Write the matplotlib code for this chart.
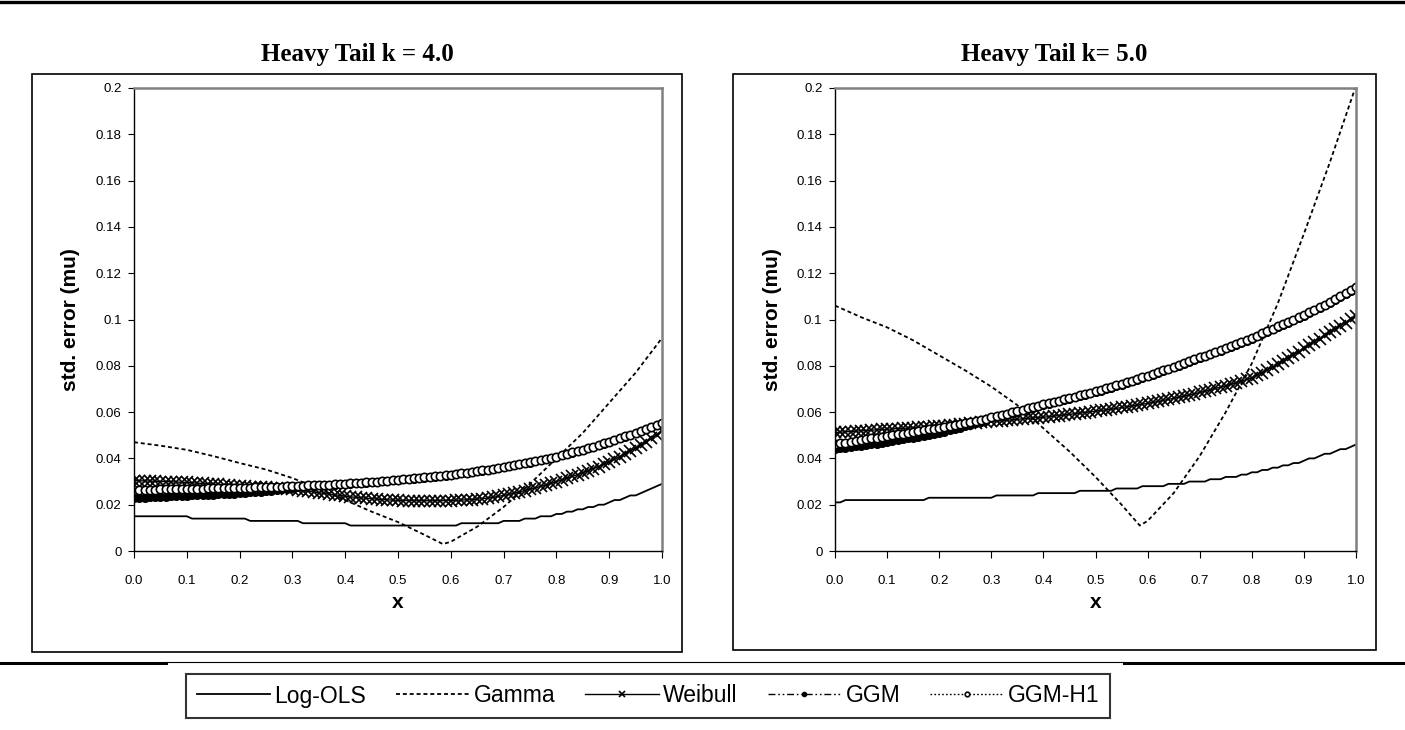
import numpy as np
import matplotlib
matplotlib.use("Agg")
import matplotlib.pyplot as plt
from matplotlib.lines import Line2D
from matplotlib.patches import Rectangle

plt.rcParams['font.family'] = ['Liberation Sans', 'DejaVu Sans']

# x grid shared by the marker series (0.00 .. 1.00 step 0.01)
x = np.linspace(0.0, 1.0, 101)
# coarser grid for the Gamma curves
x_gamma = [0.0, 0.05, 0.1, 0.15, 0.2, 0.25, 0.3, 0.35, 0.4, 0.45, 0.5, 0.55,
           0.585, 0.6, 0.65, 0.7, 0.75, 0.8, 0.85, 0.9, 0.95, 1.0]

titles = ["Heavy Tail k = 4.0", "Heavy Tail k= 5.0"]
series_names = ["Log-OLS", "Gamma", "Weibull", "GGM", "GGM-H1"]
x_ticks = [0.0, 0.1, 0.2, 0.3, 0.4, 0.5, 0.6, 0.7, 0.8, 0.9, 1.0]
y_ticks = [0, 0.02, 0.04, 0.06, 0.08, 0.1, 0.12, 0.14, 0.16, 0.18, 0.2]
y_tick_labels = ["0", "0.02", "0.04", "0.06", "0.08", "0.1", "0.12", "0.14", "0.16", "0.18", "0.2"]

# ---- k = 4.0 ----
logols_k4 = ([0.015] * 11 + [0.014] * 11 + [0.013] * 10 + [0.012] * 9 + [0.011] * 21 +
             [0.012] * 8 + [0.013] * 4 + [0.014] * 3 + [0.015] * 3 + [0.016] * 2 +
             [0.017] * 2 + [0.018] * 2 + [0.019] * 2 +
             [0.020, 0.020, 0.021, 0.022, 0.022, 0.023, 0.024, 0.024, 0.025, 0.026,
              0.027, 0.028, 0.029])
gamma_k4 = [0.047, 0.0455, 0.0437, 0.041, 0.038, 0.0352, 0.0315, 0.027, 0.022, 0.017,
            0.0125, 0.007, 0.003, 0.004, 0.0105, 0.019, 0.029, 0.040, 0.051, 0.064,
            0.077, 0.092]
weibull_k4 = [0.0304, 0.0303, 0.0303, 0.0302, 0.0301, 0.0300, 0.0300, 0.0299, 0.0298, 0.0297, 0.0296,
              0.0295, 0.0293, 0.0292, 0.0291, 0.0289, 0.0288, 0.0286, 0.0284, 0.0282, 0.0280,
              0.0279, 0.0278, 0.0277, 0.0276, 0.0275, 0.0274, 0.0272, 0.0271, 0.0269, 0.0267,
              0.0264, 0.0261, 0.0258, 0.0255, 0.0252, 0.0249, 0.0246, 0.0243, 0.0240, 0.0237,
              0.0234, 0.0232, 0.0230, 0.0228, 0.0226, 0.0224, 0.0222, 0.0221, 0.0220, 0.0219,
              0.0218, 0.0218, 0.0217, 0.0217, 0.0217, 0.0217, 0.0217, 0.0217, 0.0218, 0.0218,
              0.0219, 0.0220, 0.0221, 0.0222, 0.0224, 0.0226, 0.0229, 0.0232, 0.0236, 0.0240,
              0.0245, 0.0250, 0.0255, 0.0261, 0.0267, 0.0273, 0.0279, 0.0285, 0.0292, 0.0300,
              0.0307, 0.0314, 0.0322, 0.0330, 0.0338, 0.0347, 0.0356, 0.0365, 0.0375, 0.0385,
              0.0396, 0.0408, 0.0420, 0.0432, 0.0445, 0.0458, 0.0472, 0.0486, 0.0502, 0.0520]
ggm_k4 = [0.0229, 0.0230, 0.0231, 0.0232, 0.0233, 0.0234, 0.0235, 0.0236, 0.0237, 0.0238, 0.0239,
          0.0240, 0.0241, 0.0242, 0.0243, 0.0244, 0.0245, 0.0246, 0.0247, 0.0248, 0.0249,
          0.0251, 0.0253, 0.0255, 0.0257, 0.0259, 0.0261, 0.0263, 0.0266, 0.0269, 0.0272,
          0.0275, 0.0278, 0.0280, 0.0282, 0.0284, 0.0285, 0.0286, 0.0287, 0.0288, 0.0289,
          0.0291, 0.0292, 0.0294, 0.0295, 0.0297, 0.0299, 0.0301, 0.0303, 0.0305, 0.0307,
          0.0309, 0.0311, 0.0313, 0.0315, 0.0317, 0.0319, 0.0321, 0.0323, 0.0326, 0.0329,
          0.0332, 0.0335, 0.0338, 0.0341, 0.0344, 0.0347, 0.0351, 0.0354, 0.0358, 0.0362,
          0.0366, 0.0370, 0.0374, 0.0378, 0.0382, 0.0387, 0.0392, 0.0397, 0.0402, 0.0407,
          0.0413, 0.0419, 0.0425, 0.0431, 0.0437, 0.0443, 0.0450, 0.0457, 0.0464, 0.0471,
          0.0478, 0.0486, 0.0494, 0.0502, 0.0510, 0.0518, 0.0526, 0.0535, 0.0544, 0.0553]
ggmh1_k4 = [0.0264, 0.0264, 0.0265, 0.0265, 0.0265, 0.0266, 0.0266, 0.0266, 0.0267, 0.0267, 0.0268,
            0.0268, 0.0269, 0.0269, 0.0270, 0.0270, 0.0271, 0.0271, 0.0272, 0.0272, 0.0273,
            0.0273, 0.0274, 0.0275, 0.0275, 0.0276, 0.0277, 0.0278, 0.0278, 0.0279, 0.0280,
            0.0281, 0.0282, 0.0283, 0.0284, 0.0285, 0.0286, 0.0287, 0.0288, 0.0289, 0.0290,
            0.0292, 0.0293, 0.0295, 0.0296, 0.0298, 0.0300, 0.0302, 0.0304, 0.0306, 0.0308,
            0.0310, 0.0312, 0.0314, 0.0316, 0.0318, 0.0320, 0.0322, 0.0324, 0.0327, 0.0330,
            0.0333, 0.0336, 0.0339, 0.0342, 0.0345, 0.0348, 0.0352, 0.0355, 0.0359, 0.0363,
            0.0367, 0.0371, 0.0375, 0.0379, 0.0383, 0.0388, 0.0393, 0.0398, 0.0403, 0.0408,
            0.0414, 0.0420, 0.0426, 0.0432, 0.0438, 0.0444, 0.0451, 0.0458, 0.0465, 0.0472,
            0.0479, 0.0487, 0.0495, 0.0503, 0.0511, 0.0519, 0.0527, 0.0536, 0.0545, 0.0554]

# ---- k = 5.0 ----
logols_k5 = ([0.021] * 2 + [0.022] * 16 + [0.023] * 13 + [0.024] * 8 + [0.025] * 8 +
             [0.026] * 7 + [0.027] * 5 + [0.028] * 5 + [0.029] * 4 + [0.030] * 4 +
             [0.031] * 3 + [0.032] * 3 + [0.033] * 2 + [0.034] * 2 + [0.035] * 2 +
             [0.036] * 2 + [0.037] * 2 +
             [0.038, 0.038, 0.039, 0.040, 0.040, 0.041, 0.042, 0.042, 0.043, 0.044,
              0.044, 0.045, 0.046])
gamma_k5 = [0.106, 0.101, 0.0966, 0.091, 0.0845, 0.078, 0.071, 0.063, 0.053, 0.043,
            0.032, 0.020, 0.011, 0.013, 0.025, 0.041, 0.060, 0.081, 0.107, 0.137,
            0.168, 0.201]
weibull_k5 = [0.0512, 0.0513, 0.0515, 0.0516, 0.0518, 0.0519, 0.0520, 0.0522, 0.0523, 0.0525, 0.0526,
              0.0527, 0.0529, 0.0530, 0.0531, 0.0533, 0.0534, 0.0535, 0.0537, 0.0538, 0.0540,
              0.0542, 0.0544, 0.0546, 0.0548, 0.0550, 0.0552, 0.0554, 0.0556, 0.0558, 0.0560,
              0.0562, 0.0563, 0.0565, 0.0567, 0.0569, 0.0571, 0.0573, 0.0575, 0.0576, 0.0578,
              0.0580, 0.0583, 0.0585, 0.0588, 0.0590, 0.0593, 0.0596, 0.0598, 0.0601, 0.0604,
              0.0607, 0.0610, 0.0613, 0.0616, 0.0620, 0.0623, 0.0627, 0.0630, 0.0634, 0.0638,
              0.0642, 0.0646, 0.0651, 0.0655, 0.0660, 0.0664, 0.0669, 0.0674, 0.0679, 0.0685,
              0.0690, 0.0696, 0.0702, 0.0708, 0.0714, 0.0720, 0.0727, 0.0734, 0.0741, 0.0748,
              0.0759, 0.0771, 0.0783, 0.0795, 0.0808, 0.0821, 0.0834, 0.0847, 0.0861, 0.0875,
              0.0889, 0.0903, 0.0917, 0.0931, 0.0945, 0.0959, 0.0973, 0.0987, 0.1001, 0.1015]
ggm_k5 = [0.0440, 0.0443, 0.0446, 0.0449, 0.0452, 0.0455, 0.0458, 0.0461, 0.0464, 0.0467, 0.0470,
          0.0474, 0.0478, 0.0482, 0.0486, 0.0490, 0.0494, 0.0498, 0.0502, 0.0506, 0.0510,
          0.0515, 0.0521, 0.0527, 0.0533, 0.0539, 0.0545, 0.0551, 0.0558, 0.0565, 0.0573,
          0.0579, 0.0585, 0.0590, 0.0596, 0.0601, 0.0607, 0.0613, 0.0619, 0.0625, 0.0631,
          0.0636, 0.0642, 0.0647, 0.0653, 0.0658, 0.0664, 0.0670, 0.0676, 0.0681, 0.0687,
          0.0693, 0.0700, 0.0706, 0.0713, 0.0719, 0.0726, 0.0733, 0.0740, 0.0747, 0.0754,
          0.0762, 0.0770, 0.0778, 0.0785, 0.0793, 0.0801, 0.0809, 0.0817, 0.0825, 0.0833,
          0.0841, 0.0849, 0.0858, 0.0866, 0.0875, 0.0883, 0.0892, 0.0900, 0.0909, 0.0917,
          0.0927, 0.0937, 0.0947, 0.0957, 0.0967, 0.0977, 0.0987, 0.0997, 0.1007, 0.1017,
          0.1028, 0.1039, 0.1050, 0.1061, 0.1073, 0.1085, 0.1097, 0.1110, 0.1123, 0.1137]
ggmh1_k5 = [0.0461, 0.0465, 0.0468, 0.0472, 0.0475, 0.0479, 0.0482, 0.0486, 0.0490, 0.0493, 0.0497,
            0.0500, 0.0504, 0.0507, 0.0511, 0.0515, 0.0518, 0.0522, 0.0525, 0.0529, 0.0533,
            0.0537, 0.0541, 0.0545, 0.0550, 0.0554, 0.0559, 0.0563, 0.0568, 0.0572, 0.0577,
            0.0582, 0.0588, 0.0593, 0.0599, 0.0604, 0.0610, 0.0616, 0.0622, 0.0628, 0.0634,
            0.0639, 0.0645, 0.0650, 0.0656, 0.0661, 0.0667, 0.0673, 0.0679, 0.0684, 0.0690,
            0.0696, 0.0703, 0.0709, 0.0716, 0.0722, 0.0729, 0.0736, 0.0743, 0.0750, 0.0757,
            0.0765, 0.0773, 0.0781, 0.0788, 0.0796, 0.0804, 0.0812, 0.0820, 0.0828, 0.0836,
            0.0844, 0.0852, 0.0861, 0.0869, 0.0878, 0.0886, 0.0895, 0.0903, 0.0912, 0.0920,
            0.0930, 0.0940, 0.0950, 0.0960, 0.0970, 0.0980, 0.0990, 0.1000, 0.1010, 0.1020,
            0.1031, 0.1042, 0.1053, 0.1064, 0.1076, 0.1088, 0.1100, 0.1113, 0.1126, 0.1140]

panels = [
    (logols_k4, gamma_k4, weibull_k4, ggm_k4, ggmh1_k4),
    (logols_k5, gamma_k5, weibull_k5, ggm_k5, ggmh1_k5),
]

W, H = 1405, 730
fig = plt.figure(figsize=(W / 100, H / 100), dpi=100)


def fx(px):
    return px / W


def fy(py):
    return 1 - py / H


# chart-area boxes (pixel left, top, right, bottom)
boxes = [(32, 74, 682, 652), (733, 74, 1376, 650)]
# plot areas (pixel left, top, right, bottom)
plot_areas = [(134, 88, 662, 551), (835, 88, 1356, 551)]
# centre of the rotated y label, in pixels
ylabel_x = [71, 772]

GRAY = '#808080'
GAMMA_DASH = (0, (2.2, 1.6))
GGM_DASH = (0, (5, 2, 1.2, 2, 1.2, 2))
GGMH1_DASH = (0, (1.2, 1.6))

handles = None
for i, (box, area, data) in enumerate(zip(boxes, plot_areas, panels)):
    l, t, r, b = box
    fig.patches.append(Rectangle((fx(l), fy(b)), fx(r - l), (b - t) / H,
                                 transform=fig.transFigure, fill=False,
                                 edgecolor='black', linewidth=1.2))
    fig.text(fx((l + r) / 2), fy(55), titles[i], ha='center', va='center',
             family=['Liberation Serif', 'DejaVu Serif'], fontweight='bold', fontsize=18)

    al, at, ar, ab = area
    ax = fig.add_axes([fx(al), fy(ab), fx(ar - al), (ab - at) / H])
    logols, gamma, weibull, ggm, ggmh1 = data

    h1, = ax.plot(x, logols, color='black', linewidth=1.3, label=series_names[0])
    h2, = ax.plot(x_gamma, gamma, color='black', linewidth=1.3, linestyle=GAMMA_DASH,
                  label=series_names[1])
    h3, = ax.plot(x, weibull, color='black', linewidth=1.0, marker='x', markersize=8.5,
                  markeredgewidth=1.2, label=series_names[2])
    h4, = ax.plot(x, ggm, color='black', linewidth=1.0, linestyle=GGM_DASH, marker='o',
                  markersize=5.5, markerfacecolor='black', label=series_names[3])
    h5, = ax.plot(x, ggmh1, color='black', linewidth=1.0, linestyle=GGMH1_DASH, marker='o',
                  markersize=6, markerfacecolor='white', markeredgecolor='black',
                  markeredgewidth=1.2, label=series_names[4])
    if handles is None:
        handles = [h1, h2, h3, h4, h5]

    ax.set_xlim(0, 1)
    ax.set_ylim(0, 0.2)
    ax.set_xticks(x_ticks)
    ax.set_xticklabels([f"{v:.1f}" for v in x_ticks])
    ax.set_yticks(y_ticks)
    ax.set_yticklabels(y_tick_labels)
    ax.tick_params(axis='both', direction='out', labelsize=9.5, color='black', width=0.8)
    ax.tick_params(axis='x', length=5, pad=12)
    ax.tick_params(axis='y', length=4, pad=5)

    for side in ('left', 'bottom'):
        ax.spines[side].set_color('black')
        ax.spines[side].set_linewidth(1.0)
    for side in ('top', 'right'):
        ax.spines[side].set_color(GRAY)
        ax.spines[side].set_linewidth(1.8)

    ax.set_ylabel('std. error (mu)', fontsize=15, fontweight='bold', va='center')
    ax.yaxis.set_label_coords(-(al - ylabel_x[i]) / (ar - al), 0.5)
    ax.set_xlabel('x', fontsize=15, fontweight='bold', va='center')
    ax.xaxis.set_label_coords(0.5, -(603 - ab) / (ab - at))

# horizontal rules of the page
fig.add_artist(Line2D([0, 1], [fy(1.5), fy(1.5)], color='black', linewidth=2.4))
fig.add_artist(Line2D([0, fx(166)], [fy(663), fy(663)], color='black', linewidth=2.2))
fig.add_artist(Line2D([fx(1124), 1], [fy(663), fy(663)], color='black', linewidth=2.2))
fig.add_artist(Line2D([fx(166), fx(1124)], [fy(662), fy(662)], color='black', linewidth=0.8))

leg = fig.legend(handles=handles, loc='center', bbox_to_anchor=(fx(648), fy(696)),
                 ncol=5, fontsize=16.5, frameon=True, fancybox=False, handlelength=3.2,
                 handletextpad=0.2, columnspacing=1.3, borderpad=0.45, markerscale=0.55)
leg.get_frame().set_edgecolor('black')
leg.get_frame().set_linewidth(1.5)

fig.savefig('out.png', dpi=100)
